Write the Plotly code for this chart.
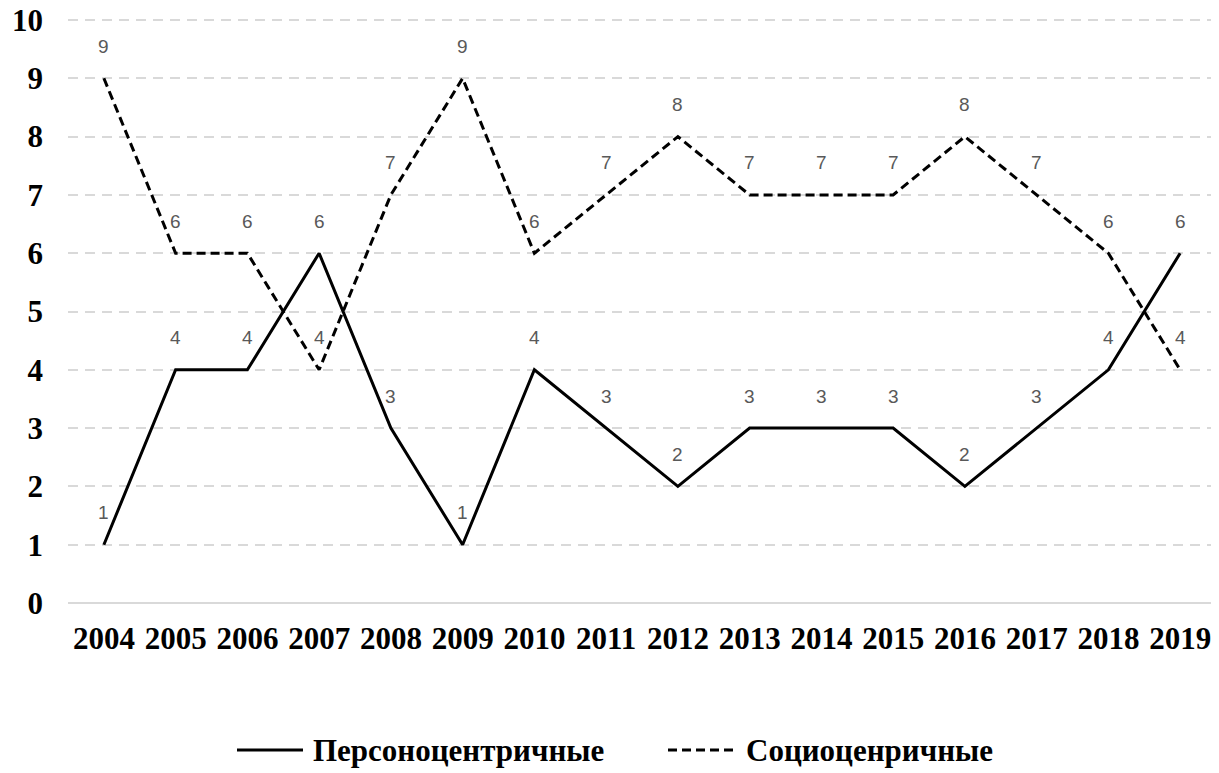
import plotly.graph_objects as go

years = [str(y) for y in range(2004, 2020)]
person = [1, 4, 4, 6, 3, 1, 4, 3, 2, 3, 3, 3, 2, 3, 4, 6]
socio = [9, 6, 6, 4, 7, 9, 6, 7, 8, 7, 7, 7, 8, 7, 6, 4]
y_ticks = list(range(0, 11))
series_names = ["Персоноцентричные", "Социоценричные"]

# page has an 8px body margin; figure coordinates = page coordinates - 8
OFF = 8
W, H = 1219 - OFF, 773 - OFF
UNIT = (603 - 20) / 10.0          # pixels per y unit
EXTRA = 3                         # keep the top gridline just inside the plot
Y_TOP = 10 + EXTRA / UNIT
L = 68 - OFF
T = 20 - OFF - EXTRA
B = H - (603 - OFF)
R = W - (1216 - OFF)
pw = W - L - R
ph = H - T - B

fig = go.Figure()
fig.add_trace(go.Scatter(x=years, y=person, mode="lines", name=series_names[0],
                         line=dict(color="black", width=3), showlegend=False))
fig.add_trace(go.Scatter(x=years, y=socio, mode="lines", name=series_names[1],
                         line=dict(color="black", width=3, dash="9px,5px"), showlegend=False))

ann = []
for series in (person, socio):
    for i, v in enumerate(series):
        ann.append(dict(x=i, y=v, xref="x", yref="y", text=str(v), showarrow=False,
                        yshift=32, font=dict(family="Liberation Sans", size=19, color="#595959")))

# custom legend (page pixel positions converted to paper coords)
def px2paper_x(px):
    return (px - OFF - L) / pw

def px2paper_y(py):
    return (H - B - (py - OFF)) / ph

ly = px2paper_y(750)
shapes = [
    dict(type="line", xref="paper", yref="paper", x0=px2paper_x(237), x1=px2paper_x(303),
         y0=ly, y1=ly, line=dict(color="black", width=3)),
    dict(type="line", xref="paper", yref="paper", x0=px2paper_x(668), x1=px2paper_x(738),
         y0=ly, y1=ly, line=dict(color="black", width=3, dash="9px,5px")),
]
ann.append(dict(x=px2paper_x(311), y=ly, xref="paper", yref="paper", text=series_names[0],
                xanchor="left", yanchor="middle", showarrow=False,
                font=dict(family="Liberation Serif", size=31, color="black", weight="bold")))
ann.append(dict(x=px2paper_x(744), y=ly, xref="paper", yref="paper", text=series_names[1],
                xanchor="left", yanchor="middle", showarrow=False,
                font=dict(family="Liberation Serif", size=31, color="black", weight="bold")))

fig.update_layout(
    width=W, height=H,
    margin=dict(l=L, r=R, t=T, b=B),
    plot_bgcolor="white", paper_bgcolor="white",
    annotations=ann, shapes=shapes,
    xaxis=dict(type="category", range=[-0.5, 15.5], showgrid=False, zeroline=False,
               showline=False, ticks="", ticklabelstandoff=14, automargin=False,
               ticklabeloverflow="allow",
               tickfont=dict(family="Liberation Serif", size=31, color="black", weight="bold")),
    yaxis=dict(range=[0, Y_TOP], tickvals=y_ticks, showgrid=True, gridcolor="#d9d9d9",
               griddash="10px,7px", gridwidth=2, zeroline=True, zerolinecolor="#d9d9d9",
               zerolinewidth=2, showline=False, ticks="", ticklabelstandoff=24, automargin=False,
               ticklabeloverflow="allow",
               tickfont=dict(family="Liberation Serif", size=31, color="black", weight="bold")),
)

fig.write_html("out.html")
